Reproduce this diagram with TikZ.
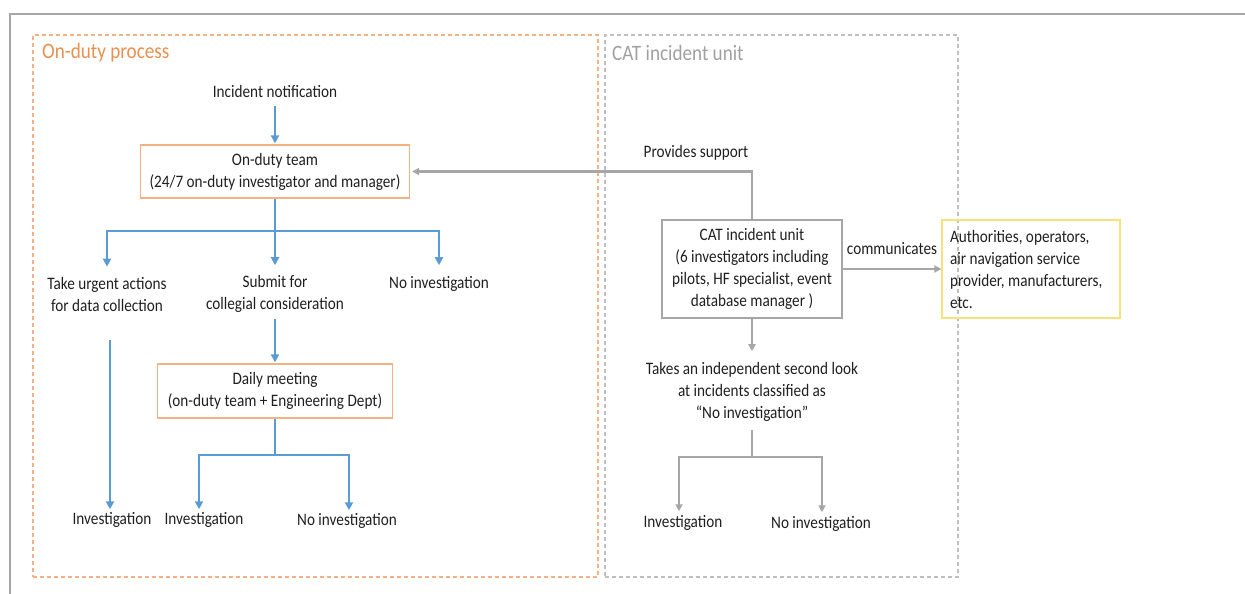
\documentclass[tikz,border=0pt]{standalone}
\usepackage{fontspec}
\setmainfont{Carlito}[FakeStretch=0.87]
\usetikzlibrary{arrows.meta}
\definecolor{bluec}{HTML}{5B9BD5}
\definecolor{grayc}{HTML}{A6A6A6}
\definecolor{orangeb}{HTML}{F4B183}
\definecolor{oranget}{HTML}{E7904F}
\definecolor{yellowb}{HTML}{F6E27A}
\definecolor{txt}{HTML}{1F1F1F}
\definecolor{dashgray}{HTML}{BFBFBF}
\definecolor{titlegray}{HTML}{A0A0A0}
\begin{document}
\begin{tikzpicture}[x=1pt,y=-1pt,
  every node/.style={font=\fontsize{17.5}{22}\selectfont, text=txt, inner sep=0pt},
  lbl/.style={align=center},
  obox/.style={draw=orangeb, line width=1.3pt, align=center},
  gbox/.style={draw=grayc, line width=1.5pt, align=center},
  region/.style={line width=1.1pt, dash pattern=on 4pt off 3pt},
  titletext/.style={anchor=west, font=\fontsize{22}{26}\selectfont},
  bline/.style={draw=bluec, line width=2.6pt},
  barrow/.style={bline, -{Triangle[length=8pt,width=8pt]}},
  gline/.style={draw=grayc, line width=2.2pt},
  garrow/.style={gline, -{Triangle[length=7pt,width=7pt]}}
]
\useasboundingbox (0,0) rectangle (1245,594);
% outer frame
\draw[grayc, line width=2pt] (1245,14) -- (10,14) -- (10,594);
% regions
\node[region, draw=orangeb, minimum width=565pt, minimum height=542pt] (onduty) at (315.5,306) {};
\node[region, draw=dashgray, minimum width=353pt, minimum height=542pt] (catreg) at (781.5,306) {};
\node[titletext, text=oranget] (t1) at (42,53) {On-duty process};
\node[titletext, text=titlegray] (t2) at (612,53) {CAT incident unit};
% left nodes
\node (notif) at (275,91) {Incident notification};
\node[obox, minimum width=269pt, minimum height=53pt] (team) at (275,171.5) {On-duty team\\(24/7 on-duty investigator and manager)};
\node[lbl] (urgent) at (107,294) {Take urgent actions\\for data collection};
\node[lbl] (submit) at (275,294) {Submit for\\collegial consideration};
\node (noinv) at (439,284) {No investigation};
\node[obox, minimum width=235pt, minimum height=54pt] (daily) at (275,391) {Daily meeting\\(on-duty team + Engineering Dept)};
\node (inv1) at (112,520) {Investigation};
\node (inv2) at (204,520) {Investigation};
\node (noinv2) at (347,521) {No investigation};
% right nodes
\node[gbox, minimum width=180pt, minimum height=98pt] (cat) at (752,269) {CAT incident unit\\(6 investigators including\\pilots, HF specialist, event\\database manager )};
\node[draw=yellowb, line width=1.3pt, text width=162pt, inner xsep=8pt, minimum height=98pt, align=left] (auth) at (1031,269) {\spaceskip=0pt\xspaceskip=0pt Authorities, operators,\\air navigation service\\provider, manufacturers,\\etc.};
\node (support) at (696,153) {Provides support};
\node (comm) at (892,249) {communicates};
\node[lbl] (takes) at (752,392) {Takes an independent second look\\at incidents classified as\\“No investigation”};
\node (inv3) at (683,523) {Investigation};
\node (noinv3) at (821,524) {No investigation};
% blue connectors
\draw[barrow, shorten <=9pt, shorten >=1pt] (notif.south) -- (team.north);
\coordinate (j1) at (275,231);
\draw[bline] (team.south) -- (j1);
\draw[barrow, shorten >=10pt] (j1) -| (urgent.north);
\draw[barrow, shorten >=10pt] (j1) -- (submit.north);
\draw[barrow, shorten >=11pt] (j1) -| (noinv.north);
\draw[barrow, shorten <=29pt, shorten >=3pt] ([xshift=-2pt]urgent.south -| inv1.north) -- ([xshift=-2pt]inv1.north);
\draw[barrow, shorten <=6pt, shorten >=1pt] (submit.south) -- (daily.north);
\coordinate (j2) at (275,455);
\draw[bline] (daily.south) -- (j2);
\draw[barrow, shorten >=3pt] (j2) -| ([xshift=-5pt]inv2.north);
\draw[barrow, shorten >=3pt] (j2) -| ([xshift=2pt]noinv2.north);
% gray connectors
\draw[garrow, shorten >=2pt] (cat.north) |- (team.east);
\draw[garrow] (cat.east) -- (auth.west);
\draw[garrow, shorten >=11pt] (cat.south) -- (takes.north);
\coordinate (j3) at (752,457);
\draw[gline, shorten <=8pt] (takes.south) -- (j3);
\draw[garrow, shorten >=4pt] (j3) -| ([xshift=-4pt]inv3.north);
\draw[garrow, shorten >=4pt] (j3) -| ([xshift=1pt]noinv3.north);
\end{tikzpicture}
\end{document}
